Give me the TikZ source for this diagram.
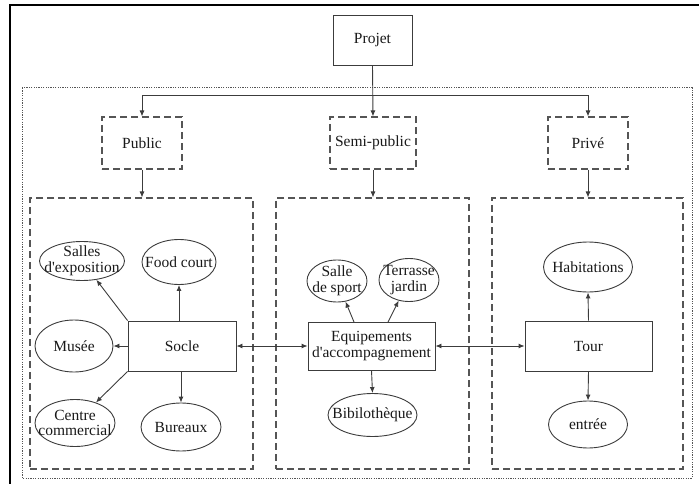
\documentclass[tikz,border=0pt]{standalone}
\usepackage{fontspec}
\setmainfont{Liberation Serif}[Ligatures=TeXOff]
\usetikzlibrary{arrows.meta,shapes.geometric}
\definecolor{ln}{RGB}{60,60,60}
\definecolor{dsh}{RGB}{85,85,85}
\tikzset{
  every node/.style={font=\fontsize{15.5}{15.5}\selectfont, text=black!90, inner sep=0pt, align=center},
  rectbox/.style={draw=ln, line width=0.9pt, rectangle},
  dashbox/.style={draw=dsh, line width=1.1pt, dash pattern=on 7pt off 4pt, rectangle},
  ellbox/.style={draw=ln, line width=0.9pt, ellipse, inner sep=-30pt},
  arr/.style={draw=ln, line width=0.9pt, -{Latex[length=6pt,width=5pt]}},
  darr/.style={draw=ln, line width=0.9pt, {Latex[length=6pt,width=5pt]}-{Latex[length=6pt,width=5pt]}},
}
\begin{document}
\begin{tikzpicture}[x=1pt,y=-1pt]
\useasboundingbox (0,0) rectangle (699,484);
% outer frame (cropped)
\draw[line width=2.2pt, black] (10,490) -- (10,5) -- (705,5);
% dotted outer box
\draw[dsh, line width=1pt, dash pattern=on 1.2pt off 1.2pt] (22,88) rectangle (692,478);
% zone boxes
\node[dashbox, minimum width=223pt, minimum height=271pt] (zl) at (141.5,333.5) {};
\node[dashbox, minimum width=193pt, minimum height=271pt] (zm) at (372.5,333.5) {};
\node[dashbox, minimum width=191pt, minimum height=271pt] (zr) at (587.5,333.5) {};
% top
\node[rectbox, minimum width=79pt, minimum height=50pt] (projet) at (372.5,40) {Projet};
\node[dashbox, minimum width=80pt, minimum height=52pt] (pub) at (142,143) {Public};
\node[dashbox, minimum width=86pt, minimum height=52pt] (semi) at (373,143) {Semi-public};
\node[dashbox, minimum width=80pt, minimum height=52pt] (priv) at (588,143) {Privé};
\coordinate (j) at (372.5,95);
\draw[arr] (projet.south) -- (semi.north);
\draw[arr] (j) -| (pub.north);
\draw[arr] (j) -| (priv.north);
\draw[arr] (pub.south) -- (zl.north -| pub.south);
\draw[arr] (semi.south) -- (zm.north -| semi.south);
\draw[arr] (priv.south) -- (zr.north -| priv.south);
% left zone
\node[rectbox, minimum width=108pt, minimum height=50pt] (socle) at (182,346) {Socle};
\node[ellbox, minimum width=85pt, minimum height=39pt] (salles) at (82,261) {Salles\\d'exposition};
\node[ellbox, minimum width=74pt, minimum height=45pt] (food) at (179,262) {Food court};
\node[ellbox, minimum width=78pt, minimum height=52pt] (musee) at (74,346) {Musée};
\node[ellbox, minimum width=80pt, minimum height=47pt] (centre) at (75,423) {Centre\\commercial};
\node[ellbox, minimum width=80pt, minimum height=48pt] (bureaux) at (181,427) {Bureaux};
\draw[arr] (socle.north west) -- (salles);
\draw[arr] (socle.north -| food) -- (food.south);
\draw[arr] (socle.west) -- (musee.east);
\draw[arr] (socle.south west) -- (centre);
\draw[arr] (socle.south -| bureaux) -- (bureaux.north);
% middle zone
\node[rectbox, minimum width=127pt, minimum height=48pt] (equip) at (371.5,346) {Equipements\\d'accompagnement};
\node[ellbox, minimum width=60pt, minimum height=42pt] (sport) at (337,281) {Salle\\de sport};
\node[ellbox, minimum width=60pt, minimum height=43pt] (terr) at (409,280) {Terrasse\\jardin};
\node[ellbox, minimum width=89pt, minimum height=43pt] (bib) at (372.5,415) {Bibilothèque};
\coordinate (e1) at (354,322);
\coordinate (e2) at (388,322);
\draw[arr] (e1) -- (sport);
\draw[arr] (e2) -- (terr);
\draw[arr] (equip.south) -- (bib.north);
% right zone
\node[rectbox, minimum width=127pt, minimum height=50pt] (tour) at (588.5,346) {Tour};
\node[ellbox, minimum width=89pt, minimum height=50pt] (habit) at (588,267) {Habitations};
\node[ellbox, minimum width=79pt, minimum height=47pt] (entree) at (588,424.5) {entrée};
\draw[arr] (tour.north) -- (habit.south);
\draw[arr] (tour.south) -- (entree.north);
% links
\draw[darr] (socle.east) -- (equip.west);
\draw[darr] (equip.east) -- (tour.west);
\end{tikzpicture}
\end{document}
